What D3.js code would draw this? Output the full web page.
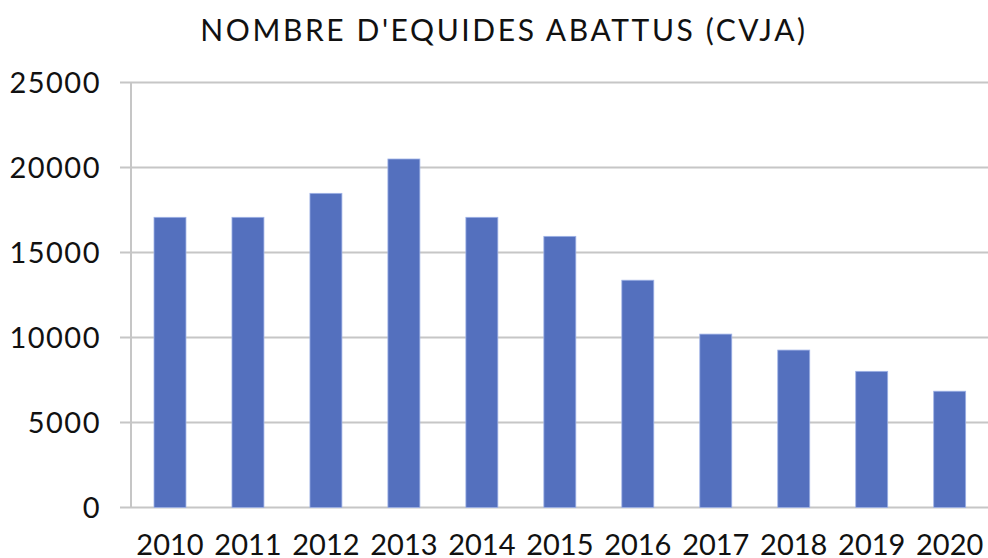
<!DOCTYPE html>
<html>
<head>
<meta charset="utf-8">
<script src="https://cdn.jsdelivr.net/npm/d3@7"></script>
<style>
  body { margin: 0; background: #fff; }
  svg text { font-family: Lato, "Open Sans", sans-serif; fill: #111; }
</style>
</head>
<body>
<div id="chart"></div>
<script>
// data
var years = ["2010", "2011", "2012", "2013", "2014", "2015", "2016", "2017", "2018", "2019", "2020"];
var abattus = [17070, 17070, 18480, 20500, 17070, 15950, 13370, 10200, 9260, 8010, 6840];
var yTicks = [0, 5000, 10000, 15000, 20000, 25000];
var title = "NOMBRE D'EQUIDES ABATTUS (CVJA)";

var width = 988, height = 558;
var margin = { top: 82.5, right: 0, bottom: 50.5, left: 131 };

var svg = d3.select("#chart").append("svg")
    .attr("width", width)
    .attr("height", height);

var x = d3.scaleBand()
    .domain(years)
    .range([margin.left, margin.left + 11 * 77.97])
    .paddingInner(0.59)
    .paddingOuter(0.295);

var y = d3.scaleLinear()
    .domain([0, 25000])
    .range([height - margin.bottom, margin.top]);

// gridlines, extended a bit left of the axis like tick marks
svg.append("g").selectAll("line")
    .data(yTicks)
    .join("line")
    .attr("x1", margin.left - 11)
    .attr("x2", width)
    .attr("y1", function(d) { return y(d); })
    .attr("y2", function(d) { return y(d); })
    .style("stroke", "#c6c6c6")
    .attr("stroke-width", 2);

// vertical axis line
svg.append("line")
    .attr("x1", margin.left).attr("x2", margin.left)
    .attr("y1", y(25000)).attr("y2", y(0))
    .style("stroke", "#c6c6c6")
    .attr("stroke-width", 2);

// y labels
svg.append("g").selectAll("text")
    .data(yTicks)
    .join("text")
    .attr("x", 101)
    .attr("y", function(d) { return y(d); })
    .attr("dy", "0.36em")
    .attr("text-anchor", "end")
    .style("font-size", "29px")
    .style("letter-spacing", "1.5px")
    .text(function(d) { return d; });

// bars
svg.append("g").selectAll("rect")
    .data(abattus)
    .join("rect")
    .attr("x", function(d, i) { return x(years[i]); })
    .attr("y", function(d) { return y(d); })
    .attr("width", x.bandwidth())
    .attr("height", function(d) { return y(0) - y(d); })
    .attr("fill", "#5470be")
    .style("stroke", "#9fb2e6")
    .attr("stroke-width", 0.8);

// x labels
svg.append("g").selectAll("text")
    .data(years)
    .join("text")
    .attr("x", function(d) { return x(d) + x.bandwidth() / 2; })
    .attr("y", 555)
    .attr("text-anchor", "middle")
    .style("font-size", "29px")
    .text(function(d) { return d; });

// title
svg.append("text")
    .attr("x", 504)
    .attr("y", 41)
    .attr("text-anchor", "middle")
    .style("font-size", "30px")
    .style("letter-spacing", "2.6px")
    .text(title);
</script>
</body>
</html>
